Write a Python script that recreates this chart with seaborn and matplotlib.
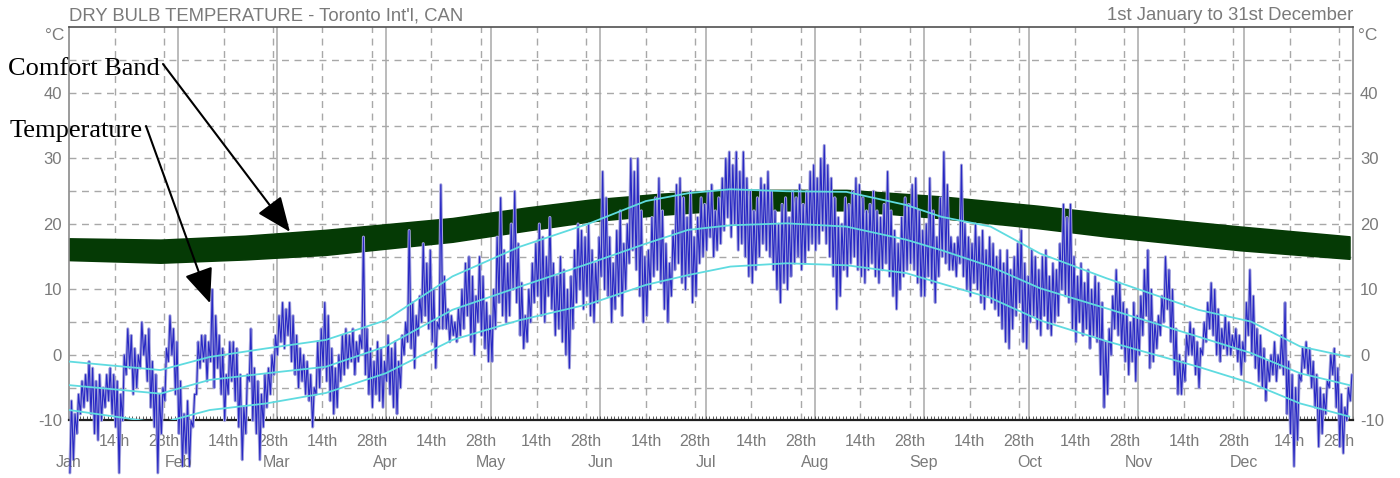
import numpy as np
import matplotlib
matplotlib.use('Agg')
import matplotlib.pyplot as plt
import matplotlib.transforms as mtransforms
import seaborn as sns

# ---------------- data ----------------
month_names = ['Jan', 'Feb', 'Mar', 'Apr', 'May', 'Jun', 'Jul', 'Aug', 'Sep', 'Oct', 'Nov', 'Dec']
month_len = [31, 28, 31, 30, 31, 30, 31, 31, 30, 31, 30, 31]

# daily highs / lows of dry bulb temperature, °C
jan_hi = [-7, -9, -6, -4, -3, -1, -2, -4, -3, -5, -3, -2, -3, -4, -6, 0, 4, 3, 1, 0, 5, 3, 4, -1, -3, -6, -5, 1, 6, 4, 2]
jan_lo = [-18, -16, -12, -9, -8, -7, -9, -12, -13, -10, -8, -7, -9, -11, -18, -10, -3, -2, -6, -5, -2, 0, -4, -8, -11, -18, -12, -7, -1, 0, -6]
feb_hi = [-4, -9, -7, -10, -6, 2, 3, 3, 2, 10, 6, 3, 1, -3, 2, 2, 1, -3, -8, -3, 4, -2, -4, -6, -3, -2, 0, 3]
feb_lo = [-12, -17, -15, -17, -11, -6, -2, -1, -4, -1, -5, -2, -6, -10, -6, -4, -7, -11, -16, -12, -4, -10, -12, -16, -11, -8, -6, -3]
mar_hi = [6, 8, 7, 8, 6, 3, 1, 0, -1, -3, -5, 2, 4, 8, 6, 1, -2, 0, 3, 4, 3, 4, 2, 3, 18, 4, 1, -1, 2, 1, -1]
mar_lo = [0, 2, 1, 3, -1, -3, -5, -4, -6, -7, -11, -6, -5, -2, -4, -7, -9, -8, -4, -3, -2, -1, -3, -1, 1, -3, -6, -8, -6, -7, -8]
apr_hi = [3, 1, 2, -1, 3, 5, 19, 8, 6, 9, 17, 14, 16, 10, 5, 26, 12, 7, 6, 5, 7, 10, 14, 15, 12, 9, 15, 12, 8, 6]
apr_lo = [-4, -6, -8, -9, -5, 0, 2, 1, -2, 3, 5, 6, 4, 2, -2, 4, 4, 4, 2, 3, 2, 3, 4, 6, 2, 0, 5, 3, 1, -1]
may_hi = [10, 18, 24, 16, 14, 20, 25, 17, 11, 6, 10, 14, 17, 20, 18, 15, 21, 14, 12, 15, 13, 10, 12, 16, 20, 19, 18, 20, 16, 14, 18]
may_lo = [-1, 4, 8, 6, 5, 6, 10, 8, 3, 1, 2, 5, 8, 9, 6, 5, 9, 7, 3, 4, 2, 0, -2, 4, 8, 10, 7, 9, 6, 5, 8]
jun_hi = [28, 24, 18, 14, 19, 22, 17, 20, 30, 28, 30, 22, 15, 16, 21, 24, 27, 22, 17, 14, 19, 26, 27, 24, 21, 25, 18, 21, 24, 23]
jun_lo = [12, 10, 9, 5, 7, 9, 6, 10, 14, 16, 13, 9, 5, 6, 10, 12, 13, 11, 7, 5, 9, 13, 14, 11, 10, 12, 8, 9, 14, 15]
jul_hi = [25, 26, 22, 24, 27, 30, 31, 29, 31, 28, 31, 27, 25, 22, 24, 27, 26, 28, 25, 22, 20, 23, 24, 21, 25, 24, 26, 23, 25, 28, 29]
jul_lo = [16, 18, 15, 16, 17, 19, 21, 18, 20, 16, 17, 15, 12, 11, 13, 15, 17, 16, 15, 13, 10, 8, 11, 10, 12, 14, 15, 13, 14, 16, 17]
aug_hi = [27, 30, 32, 29, 27, 24, 21, 20, 24, 23, 25, 27, 26, 24, 22, 23, 25, 22, 21, 23, 28, 22, 19, 17, 21, 24, 23, 26, 27, 22, 19]
aug_lo = [16, 17, 19, 17, 15, 12, 7, 9, 13, 12, 14, 15, 13, 12, 11, 13, 14, 12, 11, 13, 14, 12, 9, 7, 10, 12, 13, 14, 13, 11, 9]
sep_hi = [20, 27, 22, 18, 24, 31, 26, 18, 17, 18, 29, 20, 18, 17, 20, 18, 19, 16, 18, 17, 15, 16, 14, 16, 13, 15, 17, 19, 14, 12]
sep_lo = [9, 12, 11, 8, 12, 15, 14, 13, 13, 12, 14, 12, 10, 9, 11, 10, 8, 7, 9, 8, 7, 6, 4, 2, 1, 4, 6, 8, 2, 1]
oct_hi = [16, 15, 13, 15, 16, 12, 14, 13, 17, 23, 21, 23, 15, 12, 14, 11, 13, 10, 12, 11, 8, 2, 4, 9, 13, 11, 8, 7, 5, 8, 6]
oct_lo = [5, 6, 4, 3, 6, 4, 3, 5, 6, 10, 9, 8, 4, 2, 5, 3, 4, 1, 3, 2, -3, -8, -6, 0, 4, 3, 1, -1, -3, -1, -4]
nov_hi = [9, 13, 16, 10, 5, 6, 9, 15, 13, 10, 4, 0, -1, 3, 5, 4, 2, 1, 5, 8, 11, 10, 7, 4, 6, 5, 3, 4, 3, 2]
nov_lo = [0, 3, 6, -2, -1, 1, 3, 5, 7, 2, -3, -6, -6, -4, 0, 0, -3, -5, 0, 2, 4, 3, 0, -1, 1, 0, 0, 1, -1, -3]
dec_hi = [8, 13, 9, 4, 3, 1, -1, 0, 2, 0, 3, 8, -1, -3, -5, -3, 1, 2, 1, -1, -3, -5, -6, -4, 0, 1, -2, -6, -8, -5, -3]
dec_lo = [-1, 3, 0, -2, -4, -5, -7, -4, -3, -4, -2, -3, -9, -12, -17, -13, -4, -2, -3, -5, -8, -14, -12, -9, -5, -3, -8, -14, -15, -10, -7]

# monthly-average curves (cyan): day of year -> °C
avg_day = [0, 26, 40, 56, 73, 90, 109, 128, 148, 164, 176, 188, 204, 221, 238, 248, 262, 276, 295, 321, 336, 350, 364]
avg_max = [-1.0, -2.3, -0.3, 1.0, 2.3, 5.3, 12.0, 16.5, 20.1, 23.5, 24.7, 25.3, 25.0, 24.9, 22.9, 21.1, 19.6, 15.5, 11.7, 6.9, 5.1, 1.3, -0.3]
avg_mean = [-4.6, -5.9, -3.8, -2.8, -1.8, 1.3, 6.9, 10.4, 14.0, 17.0, 19.1, 19.8, 20.1, 19.6, 17.6, 16.0, 13.5, 10.2, 7.1, 2.8, 0.3, -2.8, -4.6]
avg_min = [-8.4, -10.4, -8.4, -7.4, -5.8, -2.8, 2.3, 5.3, 7.8, 10.7, 12.2, 13.5, 14.0, 13.7, 12.5, 10.9, 8.7, 5.3, 2.1, -1.8, -4.3, -7.4, -9.4]

# comfort band limits
band_day = [0, 26, 50, 73, 109, 130, 148, 168, 186, 221, 248, 275, 295, 333, 364]
band_lo = [14.5, 14.1, 14.6, 15.3, 17.3, 19.0, 20.4, 21.4, 22.1, 22.1, 20.9, 19.4, 18.1, 16.0, 14.7]
band_hi = [17.8, 17.6, 18.2, 19.1, 20.9, 22.5, 23.7, 24.6, 25.2, 25.2, 24.2, 22.8, 21.6, 19.6, 18.1]

y_ticks = [-10, 0, 10, 20, 30, 40]

# ---------------- styling ----------------
sns.set_theme(style='white')
plt.rcParams['font.family'] = ['Liberation Sans', 'DejaVu Sans']
grey_txt = '#7a7a7a'
grid_c = '#a8a8a8'

fig = plt.figure(figsize=(14, 4.78), dpi=100)
ax = fig.add_axes([0.0493, 0.1203, 0.9171, 0.8222])

month_start = np.cumsum([0] + month_len[:-1]) + 1   # day-of-year of the 1st

# grid: horizontal dashed every 5 deg, vertical solid at months, dashed at 14th/28th
for v in range(-5, 50, 5):
    ax.axhline(v, color=grid_c, lw=1, ls=(0, (5, 4)), zorder=0)
for ms in month_start[1:]:
    ax.axvline(ms, color=grid_c, lw=1.1, zorder=0)
for ms in month_start:
    for d in (14, 28):
        ax.axvline(ms + d - 1, color=grid_c, lw=1, ls=(0, (5, 4)), zorder=0)

# comfort band
ax.fill_between(np.array(band_day) + 1, band_lo, band_hi, color='#053a05', lw=1.2, ec='#053a05', zorder=2)

# temperature (zigzag through daily low and high)
hi = np.concatenate([jan_hi, feb_hi, mar_hi, apr_hi, may_hi, jun_hi, jul_hi, aug_hi, sep_hi, oct_hi, nov_hi, dec_hi])
lo = np.concatenate([jan_lo, feb_lo, mar_lo, apr_lo, may_lo, jun_lo, jul_lo, aug_lo, sep_lo, oct_lo, nov_lo, dec_lo])
days = np.arange(len(hi))
tx = np.column_stack([days + 1.25, days + 1.7]).ravel()
ty = np.column_stack([lo, hi]).ravel()
# lavender body under a thin dark blue trace
sns.lineplot(x=tx, y=ty, estimator=None, sort=False, color='#a4a4dc', lw=2.2,
             ax=ax, zorder=3, clip_on=False)
sns.lineplot(x=tx, y=ty, estimator=None, sort=False, color='#2828c4', lw=0.8,
             ax=ax, zorder=3.1, clip_on=False)

# cyan monthly curves
for series in (avg_max, avg_mean, avg_min):
    sns.lineplot(x=np.array(avg_day) + 1, y=series, estimator=None, sort=False,
                 color='#5fdbe0', lw=1.3, ax=ax, zorder=4)

# axes
ax.set_xlim(1, 366)
ax.set_ylim(-10, 50)
ax.set_yticks(y_ticks)
ax.set_yticklabels([str(v) for v in y_ticks])
ax.tick_params(axis='y', which='both', length=0, labelsize=12, labelcolor=grey_txt,
               left=True, right=True, labelleft=True, labelright=True, pad=5)

xt, xl = [], []
for ms in month_start:
    xt += [ms + 13, ms + 27]
    xl += ['14th', '28th']
ax.set_xticks(xt)
ax.set_xticklabels(xl)
ax.set_xticks(np.arange(1, 367), minor=True)
ax.tick_params(axis='x', which='major', length=0, labelsize=11.5, labelcolor=grey_txt, pad=10)
ax.tick_params(axis='x', which='minor', length=3, width=0.6, color='#404040', direction='in', bottom=True)

trans = mtransforms.blended_transform_factory(ax.transData, ax.transAxes)
for ms, name in zip(month_start, month_names):
    ax.text(ms, -0.088, name, transform=trans, ha='center', va='top', fontsize=11.5, color=grey_txt)

for side in ('left', 'right'):
    ax.spines[side].set_color('#8a8a8a')
    ax.spines[side].set_linewidth(1.2)
ax.spines['top'].set_color('#505050')
ax.spines['top'].set_linewidth(1.2)
ax.spines['bottom'].set_color('#202020')
ax.spines['bottom'].set_linewidth(1.6)
ax.set_xlabel('')
ax.set_ylabel('')

# titles
ax.text(0.0, 1.008, "DRY BULB TEMPERATURE - Toronto Int'l, CAN", transform=ax.transAxes,
        ha='left', va='bottom', fontsize=13.3, color=grey_txt)
ax.text(1.0, 1.008, '1st January to 31st December', transform=ax.transAxes,
        ha='right', va='bottom', fontsize=13.3, color=grey_txt)
ax.text(-0.004, 0.98, '°C', transform=ax.transAxes, ha='right', va='center', fontsize=12.5, color=grey_txt)
ax.text(1.004, 0.98, '°C', transform=ax.transAxes, ha='left', va='center', fontsize=12.5, color=grey_txt)

# annotations
serif = ['Liberation Serif', 'DejaVu Serif']
fig.text(8 / 1400, 1 - 75 / 478, 'Comfort Band', family=serif, fontsize=19, color='black', va='baseline')
fig.text(10 / 1400, 1 - 137 / 478, 'Temperature', family=serif, fontsize=19, color='black', va='baseline')
arrow = dict(arrowstyle='-|>,head_length=1.2,head_width=0.5', color='black', lw=1.5,
             mutation_scale=18, shrinkA=0, shrinkB=0)
ax.annotate('', xy=(63.8, 18.8), xytext=(163, 478 - 64), textcoords='figure pixels',
            arrowprops=arrow, annotation_clip=False, zorder=6)
ax.annotate('', xy=(41.1, 7.9), xytext=(146, 478 - 126), textcoords='figure pixels',
            arrowprops=arrow, annotation_clip=False, zorder=6)

fig.savefig('out.png', dpi=100)
